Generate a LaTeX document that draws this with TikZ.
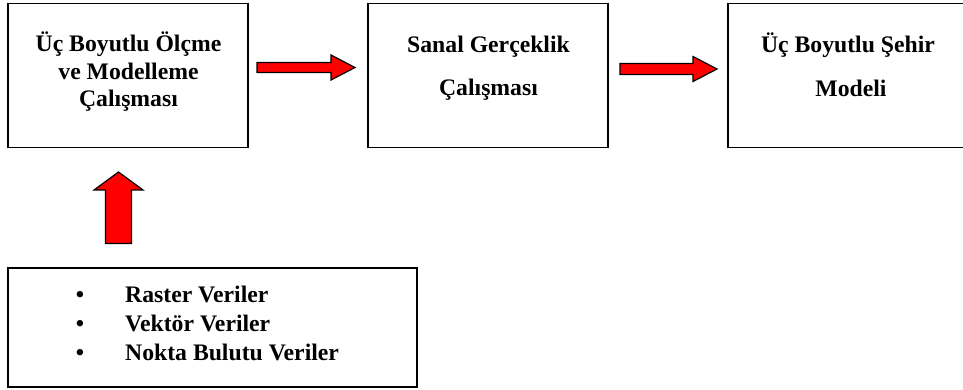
\documentclass[tikz,border=0pt]{standalone}
\usepackage{fontspec}
\setmainfont{Liberation Serif}
\begin{document}
\begin{tikzpicture}[x=1pt,y=-1pt,
  box/.style={draw=black,line width=1.5pt},
  lbl/.style={inner sep=0pt,anchor=base,font=\fontsize{23.7}{27.5}\selectfont\bfseries},
  lbll/.style={inner sep=0pt,anchor=base west,font=\fontsize{23.7}{27.5}\selectfont\bfseries},
  blockarrow/.style={draw=black,line width=1.2pt,fill=red,line join=miter}]
\useasboundingbox (0,0) rectangle (963,390);
\clip (0,0) rectangle (963,390);
% boxes
\draw[box] (8,3.5) rectangle (248,147.5);
\draw[box] (368,3.5) rectangle (608,147.5);
\draw[box] (728,3.5) rectangle (968,147.5);
\draw[box] (8,268) rectangle (417,387);
% box 1 text
\node[lbl] (t1a) at (128.5,52) {Üç Boyutlu Ölçme};
\node[lbl] (t1b) at (128.5,80) {ve Modelleme};
\node[lbl] (t1c) at (128.5,107) {Çalışması};
% box 2 text
\node[lbl] (t2a) at (488.5,53) {Sanal Gerçeklik};
\node[lbl] (t2b) at (488.5,96) {Çalışması};
% box 3 text
\node[lbl] (t3a) at (848,53) {Üç Boyutlu Şehir};
\node[lbl] (t3b) at (851,97) {Modeli};
% list
\node[lbl] (b1) at (80,302) {•};
\node[lbl] (b2) at (80,331) {•};
\node[lbl] (b3) at (80,360) {•};
\node[lbll] (l1) at (125,302) {Raster Veriler};
\node[lbll] (l2) at (125,331) {Vektör Veriler};
\node[lbll] (l3) at (125,360) {Nokta Bulutu Veriler};
% arrows
\draw[blockarrow] (257,62.5) -- (331,62.5) -- (331,55) -- (355,67.5) -- (331,80) -- (331,72.5) -- (257,72.5) -- cycle;
\draw[blockarrow] (620,63.5) -- (693,63.5) -- (693,56.5) -- (717,69) -- (693,81.5) -- (693,74.5) -- (620,74.5) -- cycle;
\draw[blockarrow] (105.5,243.5) -- (105.5,190) -- (94,190) -- (118.5,172) -- (143,190) -- (131.5,190) -- (131.5,243.5) -- cycle;
\end{tikzpicture}
\end{document}
